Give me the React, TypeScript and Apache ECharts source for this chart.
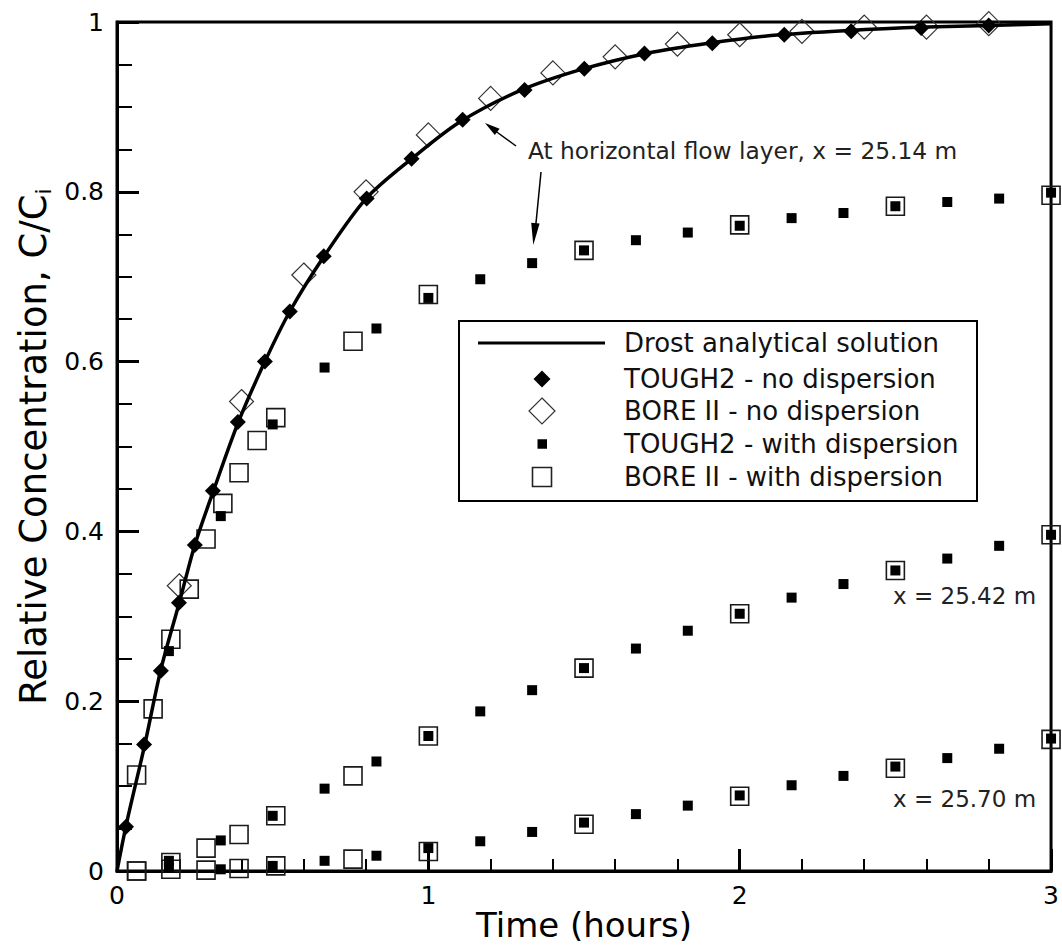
import React, { useEffect, useRef } from 'react';
import * as echarts from 'echarts';

// Drost analytical solution (x = 25.14 m)
const drostT = [0, 0.03, 0.09, 0.14, 0.2, 0.25, 0.31, 0.39, 0.475, 0.555, 0.665, 0.8, 0.95, 1.1, 1.3, 1.5, 1.7, 1.9, 2.1, 2.35, 2.6, 2.8, 3.0];
const drostC = [0, 0.055, 0.15, 0.236, 0.316, 0.384, 0.448, 0.529, 0.6, 0.659, 0.724, 0.792, 0.84, 0.882, 0.92, 0.945, 0.963, 0.975, 0.984, 0.99, 0.994, 0.996, 0.998];

// TOUGH2 - no dispersion
const toughNoT = [0.029, 0.087, 0.141, 0.199, 0.25, 0.308, 0.388, 0.475, 0.555, 0.664, 0.802, 0.946, 1.11, 1.309, 1.501, 1.694, 1.912, 2.143, 2.358, 2.583, 2.8];
const toughNoC = [0.052, 0.149, 0.236, 0.316, 0.384, 0.448, 0.529, 0.6, 0.659, 0.724, 0.792, 0.839, 0.885, 0.92, 0.945, 0.963, 0.975, 0.985, 0.989, 0.993, 0.996];

// BORE II - no dispersion
const boreNoT = [0.2, 0.4, 0.6, 0.8, 1.0, 1.2, 1.4, 1.6, 1.8, 2.0, 2.2, 2.4, 2.6, 2.8];
const boreNoC = [0.336, 0.553, 0.702, 0.8, 0.867, 0.91, 0.94, 0.959, 0.974, 0.985, 0.989, 0.994, 0.994, 0.998];

// TOUGH2 - with dispersion (times in hours)
const toughDispT = [0.1667, 0.3333, 0.5, 0.6667, 0.8333, 1.0, 1.1667, 1.3333, 1.5, 1.6667, 1.8333, 2.0, 2.1667, 2.3333, 2.5, 2.6667, 2.8333, 3.0];
const toughDisp2514 = [0.259, 0.418, 0.526, 0.593, 0.639, 0.675, 0.697, 0.716, 0.731, 0.743, 0.752, 0.76, 0.769, 0.775, 0.783, 0.788, 0.792, 0.799];
const toughDisp2542 = [0.012, 0.036, 0.065, 0.097, 0.129, 0.159, 0.188, 0.213, 0.239, 0.262, 0.283, 0.303, 0.322, 0.338, 0.354, 0.368, 0.383, 0.396];
const toughDisp2570 = [0.004, 0.002, 0.006, 0.012, 0.018, 0.027, 0.035, 0.046, 0.057, 0.067, 0.077, 0.089, 0.101, 0.112, 0.123, 0.133, 0.144, 0.156];

// BORE II - with dispersion
const boreDisp2514T = [0.063, 0.116, 0.173, 0.232, 0.286, 0.34, 0.392, 0.45, 0.51, 0.758, 1.0, 1.5, 2.0, 2.5, 3.0];
const boreDisp2514C = [0.113, 0.191, 0.273, 0.332, 0.391, 0.433, 0.469, 0.507, 0.534, 0.624, 0.679, 0.731, 0.761, 0.783, 0.796];
const boreDispT = [0.063, 0.173, 0.286, 0.392, 0.51, 0.758, 1.0, 1.5, 2.0, 2.5, 3.0];
const boreDisp2542C = [0.0, 0.01, 0.027, 0.043, 0.065, 0.112, 0.159, 0.239, 0.303, 0.354, 0.396];
const boreDisp2570C = [0.0, 0.002, 0.001, 0.003, 0.006, 0.014, 0.023, 0.055, 0.088, 0.121, 0.155];

const legendLabels = [
  'Drost analytical solution',
  'TOUGH2 - no dispersion',
  'BORE II - no dispersion',
  'TOUGH2 - with dispersion',
  'BORE II - with dispersion',
];

const FONT = 'DejaVu Sans';

const pairs = (t: number[], c: number[]) => t.map((v, i) => [v, c[i]]);

export default function App() {
  const ref = useRef<HTMLDivElement>(null);
  useEffect(() => {
    const chart = echarts.init(ref.current!, null, { renderer: 'svg' });
    const openSquare = {
      type: 'scatter', symbol: 'rect', symbolSize: 18, z: 2,
      itemStyle: { color: 'rgba(0,0,0,0)', borderColor: '#1a1a1a', borderWidth: 1.6, opacity: 1 },
    };
    const smallSquare = {
      type: 'scatter', symbol: 'rect', symbolSize: 10, z: 5,
      itemStyle: { color: '#000', opacity: 1 },
    };
    const rowY = [343, 379, 411, 444, 477];
    const option: any = {
      animation: false,
      backgroundColor: '#fff',
      grid: { left: 117, right: 10, top: 22, bottom: 81, show: true, borderColor: '#000', borderWidth: 3 },
      xAxis: {
        type: 'value', min: 0, max: 3, interval: 1,
        name: 'Time (hours)', nameLocation: 'middle', nameGap: 37, nameMoveOverlap: false,
        nameTextStyle: { fontSize: 34, fontFamily: FONT, color: '#000' },
        axisLine: { lineStyle: { color: '#000', width: 3 } },
        axisTick: { inside: true, length: 22, lineStyle: { color: '#000', width: 3 } },
        minorTick: { show: true, splitNumber: 5, length: 12, lineStyle: { color: '#000', width: 2 } },
        axisLabel: { fontSize: 25, fontFamily: FONT, color: '#000', margin: 12 },
        splitLine: { show: false },
      },
      yAxis: {
        type: 'value', min: 0, max: 1, interval: 0.2,
        name: '{a|Relative Concentration, C/C}{b|i}', nameLocation: 'middle', nameGap: 63, nameMoveOverlap: false,
        nameTextStyle: {
          color: '#000',
          rich: {
            a: { fontSize: 37, fontFamily: FONT, color: '#000', lineHeight: 42 },
            b: { fontSize: 22, fontFamily: FONT, color: '#000', lineHeight: 14, verticalAlign: 'bottom' },
          },
        },
        axisLine: { lineStyle: { color: '#000', width: 3 } },
        axisTick: { inside: true, length: 22, lineStyle: { color: '#000', width: 3 } },
        minorTick: { show: true, splitNumber: 4, length: 15, lineStyle: { color: '#000', width: 2 } },
        axisLabel: { fontSize: 25, fontFamily: FONT, color: '#000', margin: 13 },
        splitLine: { show: false },
      },
      series: [
        { ...openSquare, name: 'BORE II - with dispersion (25.14 m)', data: pairs(boreDisp2514T, boreDisp2514C) },
        { ...openSquare, name: 'BORE II - with dispersion (25.42 m)', data: pairs(boreDispT, boreDisp2542C) },
        { ...openSquare, name: 'BORE II - with dispersion (25.70 m)', data: pairs(boreDispT, boreDisp2570C) },
        {
          type: 'scatter', name: 'BORE II - no dispersion', symbol: 'diamond', symbolSize: 24, z: 3,
          itemStyle: { color: 'rgba(0,0,0,0)', borderColor: '#333', borderWidth: 1.2, opacity: 1 },
          data: pairs(boreNoT, boreNoC),
        },
        {
          type: 'line', name: 'Drost analytical solution', smooth: 0.3, showSymbol: false, z: 4,
          lineStyle: { color: '#000', width: 3.5 },
          data: pairs(drostT, drostC),
        },
        {
          type: 'scatter', name: 'TOUGH2 - no dispersion', symbol: 'diamond', symbolSize: 16, z: 5,
          itemStyle: { color: '#000', opacity: 1 },
          data: pairs(toughNoT, toughNoC),
        },
        { ...smallSquare, name: 'TOUGH2 - with dispersion (25.14 m)', data: pairs(toughDispT, toughDisp2514) },
        { ...smallSquare, name: 'TOUGH2 - with dispersion (25.42 m)', data: pairs(toughDispT, toughDisp2542) },
        { ...smallSquare, name: 'TOUGH2 - with dispersion (25.70 m)', data: pairs(toughDispT, toughDisp2570) },
      ],
      graphic: [
        // legend box
        { type: 'rect', z: 100, shape: { x: 459, y: 321, width: 518, height: 180 }, style: { fill: '#fff', stroke: '#000', lineWidth: 2 } },
        { type: 'line', z: 101, shape: { x1: 478, y1: rowY[0], x2: 605, y2: rowY[0] }, style: { stroke: '#000', lineWidth: 3 } },
        { type: 'polygon', z: 101, shape: { points: [[542, rowY[1] - 8.5], [550.5, rowY[1]], [542, rowY[1] + 8.5], [533.5, rowY[1]]] }, style: { fill: '#000' } },
        { type: 'polygon', z: 101, shape: { points: [[542, rowY[2] - 13], [555, rowY[2]], [542, rowY[2] + 13], [529, rowY[2]]] }, style: { fill: 'none', stroke: '#333', lineWidth: 1.2 } },
        { type: 'rect', z: 101, shape: { x: 537.5, y: rowY[3] - 4.75, width: 9.5, height: 9.5 }, style: { fill: '#000' } },
        { type: 'rect', z: 101, shape: { x: 532.5, y: rowY[4] - 9.5, width: 19, height: 19 }, style: { fill: 'none', stroke: '#222', lineWidth: 1.6 } },
        ...legendLabels.map((t, i) => ({
          type: 'text', z: 101, x: 624, y: rowY[i],
          style: { text: t, fontSize: 26, fontFamily: FONT, fill: '#111', verticalAlign: 'middle', align: 'left' },
        })),
        // annotations
        { type: 'text', z: 101, x: 528, y: 150, style: { text: 'At horizontal flow layer, x = 25.14 m', fontSize: 23.3, fontFamily: FONT, fill: '#222', verticalAlign: 'middle' } },
        { type: 'text', z: 101, x: 893, y: 596, style: { text: 'x = 25.42 m', fontSize: 23, fontFamily: FONT, fill: '#222', verticalAlign: 'middle' } },
        { type: 'text', z: 101, x: 893, y: 799, style: { text: 'x = 25.70 m', fontSize: 23, fontFamily: FONT, fill: '#222', verticalAlign: 'middle' } },
        // arrows
        { type: 'line', z: 101, shape: { x1: 516, y1: 146, x2: 494, y2: 130 }, style: { stroke: '#000', lineWidth: 1.5 } },
        { type: 'polygon', z: 101, shape: { points: [[485, 123], [499.6, 128.7], [494.8, 135.1]] }, style: { fill: '#000' } },
        { type: 'line', z: 101, shape: { x1: 541, y1: 172, x2: 535.5, y2: 228 }, style: { stroke: '#000', lineWidth: 1.5 } },
        { type: 'polygon', z: 101, shape: { points: [[533.3, 245], [539.6, 223.5], [531.2, 222.7]] }, style: { fill: '#000' } },
      ],
    };
    chart.setOption(option);
    return () => chart.dispose();
  }, []);
  return <div ref={ref} style={{ position: 'fixed', left: 0, top: 0, width: 1062, height: 952, background: '#fff' }} />;
}
